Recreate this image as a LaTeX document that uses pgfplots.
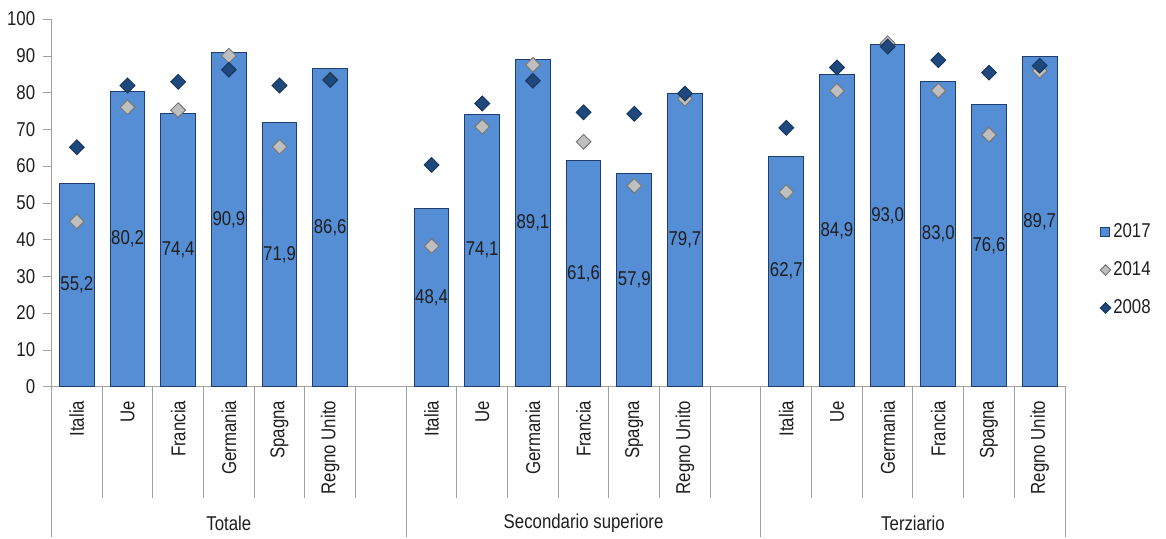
\documentclass[border=0pt]{standalone}
\usepackage{fontspec}
\setmainfont{Liberation Sans}[FakeStretch=0.84]
\usepackage{pgfplots}
\usepackage{pgfplotstable}
\pgfplotsset{compat=1.18}
\definecolor{barblue}{RGB}{85,142,213}
\definecolor{bardark}{RGB}{31,62,110}
\definecolor{navy}{RGB}{31,73,125}
\definecolor{navyedge}{RGB}{23,55,94}
\definecolor{lgray}{RGB}{191,191,191}
\definecolor{mgray}{RGB}{120,120,120}
\definecolor{axisgray}{RGB}{160,160,160}
\definecolor{txt}{RGB}{30,30,30}
\pgfplotstableread{
x v17 v14 v08 lab
0 55.2 44.9 65.1 55,2
1 80.2 76.0 81.9 80,2
2 74.4 75.2 82.9 74,4
3 90.9 90.0 86.2 90,9
4 71.9 65.2 81.9 71,9
5 86.6 83.6 83.4 86,6
7 48.4 38.2 60.3 48,4
8 74.1 70.7 77.0 74,1
9 89.1 87.5 83.2 89,1
10 61.6 66.6 74.6 61,6
11 57.9 54.6 74.2 57,9
12 79.7 78.3 79.7 79,7
14 62.7 52.9 70.4 62,7
15 84.9 80.5 86.8 84,9
16 93.0 93.4 92.5 93,0
17 83.0 80.5 88.8 83,0
18 76.6 68.5 85.4 76,6
19 89.7 85.9 87.3 89,7
}\data
\begin{document}
\begin{tikzpicture}[font=\fontsize{10}{12}\selectfont, text=txt]
\begin{axis}[
  scale only axis, width=506.75pt, height=183.75pt,
  xmin=-0.5, xmax=19.5, ymin=0, ymax=100,
  axis x line=bottom, axis y line=left,
  axis line style={draw=axisgray, -},
  every outer x axis line/.append style={-},
  every outer y axis line/.append style={-},
  clip=false,
  tick align=outside, major tick length=4.5pt,
  ytick={0,10,...,100},
  ytick style={draw=axisgray},
  yticklabel style={inner sep=0pt, xshift=-3.5pt},
  xtick style={draw=none},
  xtick={0,1,2,3,4,5,7,8,9,10,11,12,14,15,16,17,18,19},
  xticklabels={Italia,Ue,Francia,Germania,Spagna,Regno Unito,Italia,Ue,Germania,Francia,Spagna,Regno Unito,Italia,Ue,Germania,Francia,Spagna,Regno Unito},
  xticklabel style={rotate=90, anchor=east, inner sep=0pt},
  xticklabel shift=2.5pt,
  /pgf/number format/assume math mode=true,
  legend style={at={(axis description cs:1.034,0.317)}, anchor=west, draw=none, fill=none,
    row sep=8.5pt, inner sep=0pt, nodes={inner sep=1pt, anchor=west}},
  legend cell align=left,
]
\addplot[ybar, bar width=17.35pt, bar shift=0pt, fill=barblue, draw=bardark, line width=0.5pt,
  legend image code/.code={\draw[fill=barblue, draw=bardark, line width=0.5pt] (0pt,-2.25pt) rectangle (4.5pt,2.25pt);}]
  table[x=x, y=v17]{\data};
\addlegendentry{2017}
\addplot[only marks, mark=square*, mark size=2.6pt, mark options={rotate=45, fill=lgray, draw=mgray, line width=0.5pt},
  legend image code/.code={\draw[fill=lgray, draw=mgray, line width=0.5pt] (0pt,0pt) -- (2.6pt,2.6pt) -- (5.2pt,0pt) -- (2.6pt,-2.6pt) -- cycle;}]
  table[x=x, y=v14]{\data};
\addlegendentry{2014}
\addplot[only marks, mark=square*, mark size=2.6pt, mark options={rotate=45, fill=navy, draw=navyedge, line width=0.5pt},
  legend image code/.code={\draw[fill=navy, draw=navyedge, line width=0.5pt] (0pt,0pt) -- (2.6pt,2.6pt) -- (5.2pt,0pt) -- (2.6pt,-2.6pt) -- cycle;}]
  table[x=x, y=v08]{\data};
\addlegendentry{2008}
\addplot[draw=none, mark=none, forget plot, nodes near coords, point meta=explicit symbolic,
  every node near coord/.append style={anchor=center, inner sep=0pt, text=txt}]
  table[x=x, y expr=\thisrow{v17}/2, meta=lab]{\data};
% separators
\pgfplotsinvokeforeach{0.5,1.5,2.5,3.5,4.5,5.5,7.5,8.5,9.5,10.5,11.5,12.5,14.5,15.5,16.5,17.5,18.5}{
  \draw[axisgray, line width=0.5pt] (axis cs:#1,0) -- ++(0pt,-55.75pt);
}
\pgfplotsinvokeforeach{-0.5,6.5,13.5,19.5}{
  \draw[axisgray, line width=0.5pt] (axis cs:#1,0) -- ++(0pt,-75.25pt);
}
\node[anchor=center] at ([yshift=-68.25pt]axis cs:3,0) {Totale};
\node[anchor=center] at ([yshift=-68.25pt]axis cs:10,0) {Secondario superiore};
\node[anchor=center] at ([yshift=-68.25pt]axis cs:16.5,0) {Terziario};
\end{axis}
\coordinate (bl) at ([shift={(-25.75pt,-76.25pt)}]current axis.south west);
\coordinate (tr) at ([shift={(50.5pt,9.5pt)}]current axis.north east);
\pgfresetboundingbox
\path (bl) rectangle (tr);
\end{tikzpicture}
\end{document}
